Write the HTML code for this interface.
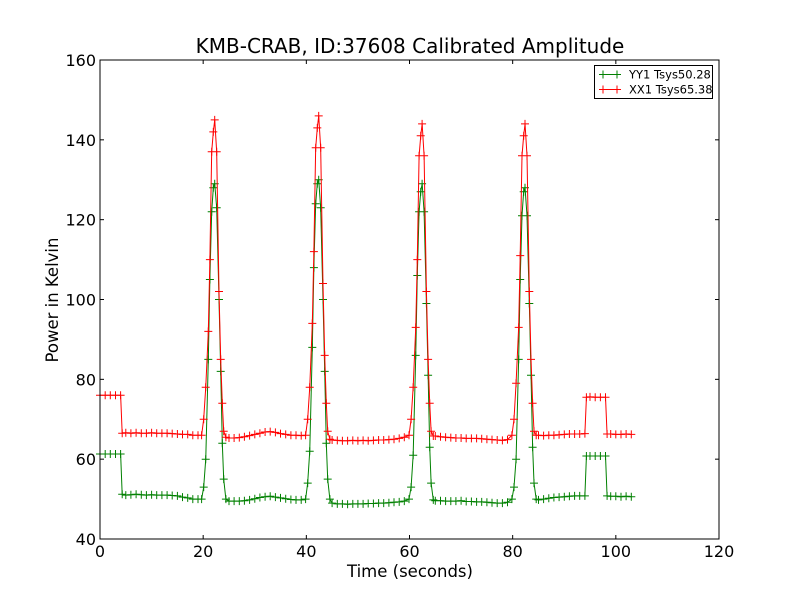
<!DOCTYPE html>
<html><head><meta charset="utf-8"><style>
html,body{margin:0;padding:0;background:#fff;}
svg{display:block;font-family:"DejaVu Sans","Liberation Sans",sans-serif;}
</style></head><body>
<svg id="chart" width="800" height="600" viewBox="0 0 800 600" xmlns="http://www.w3.org/2000/svg">
<rect width="800" height="600" fill="#fff"/>
<text x="410" y="53" font-size="20" text-anchor="middle">KMB-CRAB, ID:37608 Calibrated Amplitude</text>
<g id="plot"></g>
<text x="410" y="577" font-size="16.5" text-anchor="middle">Time (seconds)</text>
<text x="58" y="300" font-size="16.5" text-anchor="middle" transform="rotate(-90 58 300)">Power in Kelvin</text>
</svg>
<script>
const xTicks = [0,20,40,60,80,100,120];
const yTicks = [40,60,80,100,120,140,160];
const times = [0,1,2,3,4,
4.3,5,6,7,8,9,10,11,12,13,14,15,16,17,18,19,
19.7,20.1,20.5,21.0,21.3,21.65,21.97,22.24,22.62,23.07,23.4,23.71,23.98,24.4,
25,26,27,28,29,30,31,32,33,34,35,36,37,38,39,
39.86,40.26,40.66,41.16,41.46,41.81,42.13,42.4,42.78,43.23,43.56,43.87,44.14,44.56,
45,46,47,48,49,50,51,52,53,54,55,56,57,58,59,
59.91,60.31,60.71,61.21,61.51,61.86,62.18,62.45,62.83,63.28,63.61,63.92,64.19,64.61,
65,66,67,68,69,70,71,72,73,74,75,76,77,78,79,
79.86,80.26,80.66,81.16,81.46,81.81,82.13,82.4,82.78,83.23,83.56,83.87,84.14,84.56,
85,86,87,88,89,90,91,92,93,94,
94.3,95,96,97,98,
98.3,99,100,101,102,103];
const yy1 = [61.3,61.3,61.3,61.3,61.3,
51.2,51.0,51.1,51.2,51.1,51.0,51.1,51.0,51.0,51.0,50.9,50.8,50.5,50.3,50.0,50.0,
50,53,60,85,105,122,128,129,123,100,82,64,55,50,
49.5,49.5,49.5,49.6,49.8,50.1,50.4,50.6,50.7,50.5,50.3,50.1,49.9,49.8,49.8,
50,54,62,88,108,124,129,130,123,100,82,64,55,50,
49.0,48.8,48.8,48.7,48.8,48.8,48.8,48.9,48.9,49.0,49.0,49.1,49.2,49.3,49.5,
50,53,61,86,106,122,127,129,122,99,81,63,54,49.8,
49.6,49.6,49.5,49.5,49.5,49.6,49.4,49.4,49.3,49.3,49.2,49.1,49.0,49.0,49.2,
50,53,60,85,105,121,127,128,121,99,81,63,54,50,
49.8,50.0,50.2,50.4,50.5,50.6,50.7,50.8,50.8,50.8,
60.8,60.8,60.8,60.8,60.8,
50.8,50.7,50.7,50.6,50.7,50.6];
const xx1 = [76,76,76,76,76,
66.5,66.6,66.5,66.6,66.5,66.5,66.6,66.5,66.5,66.5,66.4,66.3,66.2,66.2,66.0,66.0,
66,70,78,92,110,137,142,145,137,102,85,74,67,65.5,
65.3,65.3,65.4,65.6,65.9,66.2,66.5,66.8,66.9,66.7,66.4,66.2,66.0,66.0,65.9,
66,70,78,94,112,138,143,146,138,104,86,74,67,65,
64.8,64.7,64.6,64.6,64.7,64.6,64.7,64.6,64.7,64.8,64.8,64.9,65.0,65.2,65.5,
66,70,78,93,110,136,141,144,136,102,85,74,67,65.8,
65.8,65.6,65.5,65.4,65.3,65.3,65.2,65.2,65.2,65.1,65.0,64.9,64.8,64.7,64.9,
66,70,79,93,111,136,141,144,136,102,85,74,67,66,
66.0,65.9,66.0,66.0,66.1,66.2,66.3,66.3,66.3,66.4,
75.5,75.6,75.5,75.5,75.5,
66.3,66.3,66.2,66.2,66.3,66.2];
const seriesNames = ["YY1 Tsys50.28","XX1 Tsys65.38"];

const L=100,R=719,T=60,B=539;
const xS = v => L + (v-0)/(120-0)*(R-L);
const yS = v => B - (v-40)/(160-40)*(B-T);
const NS="http://www.w3.org/2000/svg";
const plot=document.getElementById('plot');
function mk(tag,attrs,parent){const e=document.createElementNS(NS,tag);for(const k in attrs)e.setAttribute(k,attrs[k]);(parent||plot).appendChild(e);return e;}

function drawSeries(vals,color,name){
  const g=mk('g',{});
  
  
  const d=times.map((t,i)=>(i?'L':'M')+xS(t).toFixed(2)+','+yS(vals[i]).toFixed(2)).join('');
  const p=mk('path',{d:d,fill:'none',stroke:color,'stroke-width':1},g);
  
  
  let md='';
  times.forEach((t,i)=>{const x=xS(t),y=yS(vals[i]);md+=`M${(x-4).toFixed(1)},${y.toFixed(1)}h8M${x.toFixed(1)},${(y-4).toFixed(1)}v8`;});
  const m=mk('path',{d:md,fill:'none',stroke:color,'stroke-width':1},g);
  
  
}
drawSeries(yy1,'#008000','series-yy1');
drawSeries(xx1,'#ff0000','series-xx1');

const ax=mk('g',{});


xTicks.forEach(v=>{
  const x=xS(v);
  mk('line',{x1:x,x2:x,y1:B,y2:B-4,stroke:'#000'},ax);
  mk('line',{x1:x,x2:x,y1:T,y2:T+4,stroke:'#000'},ax);
  const t=mk('text',{x:x,y:B+18,'font-size':16,'text-anchor':'middle'},ax);
  t.textContent=v;
  
  
});
yTicks.forEach(v=>{
  const y=yS(v);
  mk('line',{x1:L,x2:L+4,y1:y,y2:y,stroke:'#000'},ax);
  mk('line',{x1:R,x2:R-4,y1:y,y2:y,stroke:'#000'},ax);
  const t=mk('text',{x:L-4,y:y+6,'font-size':16,'text-anchor':'end'},ax);
  t.textContent=v;
  
  
});
mk('rect',{x:L,y:T,width:R-L,height:B-T,fill:'none',stroke:'#000','stroke-width':1},ax);

const lg=mk('g',{});


mk('rect',{x:594.5,y:65.5,width:118,height:33,fill:'#fff',stroke:'#000'},lg);
const cols=['#008000','#ff0000'];
seriesNames.forEach((n,i)=>{
  const y=74.5+i*15;
  mk('line',{x1:599,x2:621,y1:y,y2:y,stroke:cols[i]},lg);
  mk('line',{x1:603,x2:603,y1:y-4,y2:y+4,stroke:cols[i]},lg);
  mk('line',{x1:617,x2:617,y1:y-4,y2:y+4,stroke:cols[i]},lg);
  const t=mk('text',{x:629,y:y+4,'font-size':11.5},lg);
  t.textContent=n;
  
  
});
</script>
</body></html>
